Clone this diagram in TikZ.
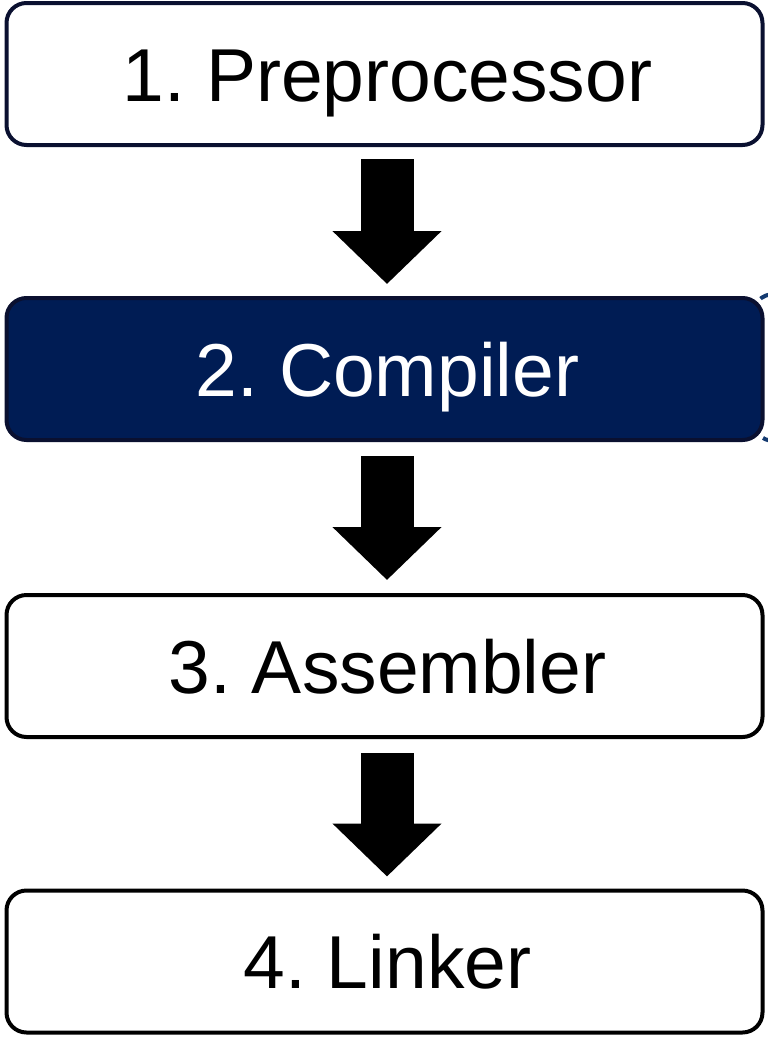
\documentclass[tikz,border=0pt]{standalone}
\usepackage{fontspec}
\setmainfont{Liberation Sans}
\usetikzlibrary{arrows.meta,calc}
\frenchspacing

\definecolor{navyfill}{HTML}{001C54}
\definecolor{navyline}{HTML}{0A1030}
\definecolor{navydash}{HTML}{143A70}

\tikzset{
  stage/.style={draw, line width=4pt, rounded corners=20pt, outer sep=0pt,
    minimum width=756pt, minimum height=142pt, inner sep=0pt,
    text height=54pt, text depth=0pt,
    execute at begin node=\hspace*{6pt},
    font=\fontsize{75}{90}\selectfont, text=black, fill=white},
  stagehl/.style={stage, fill=navyfill, draw=navyline, text=white},
  bigarrow/.style={line width=53pt, line cap=butt,
    -{Triangle[length=53pt 0 0, width=106pt 0 0]}},
}

\begin{document}
\begin{tikzpicture}[x=1pt,y=-1pt]
  \useasboundingbox (0,0) rectangle (768,1037);

  % outline peeking out to the right of the compiler stage
  \begin{scope}
    \clip (0,0) rectangle (768,1037);
    \draw[navydash, line width=4pt, dashed, dash pattern=on 12pt off 6pt, rounded corners=22pt]
      (752,294) rectangle (1000,441);
  \end{scope}

  \node[stage, draw=navyline] (pre) at (384.5,74)  {1. Preprocessor};
  \node[stagehl]              (cc)  at (384.5,369) {2. Compiler};
  \node[stage, draw=black]    (as)  at (384.5,666) {3. Assembler};
  \node[stage, draw=black]    (ld)  at (384.5,961.5) {4. Linker};

  \draw[bigarrow] ($(pre.south)+(2.5,14)$) -- ($(cc.north)+(2.5,-14)$);
  \draw[bigarrow] ($(cc.south)+(2.5,16)$)  -- ($(as.north)+(2.5,-15)$);
  \draw[bigarrow] ($(as.south)+(2.5,16)$)  -- ($(ld.north)+(2.5,-14)$);
\end{tikzpicture}
\end{document}
